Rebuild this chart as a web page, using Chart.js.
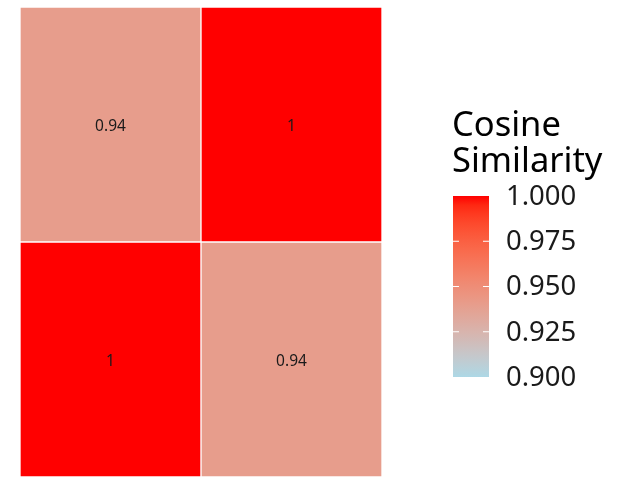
<!DOCTYPE html>
<html>
<head>
<meta charset="utf-8">
<script src="https://cdn.jsdelivr.net/npm/chart.js@4"></script>
<style>
  html, body { margin: 0; padding: 0; background: #fff; }
  #wrap { width: 621px; height: 478px; }
</style>
</head>
<body>
<div id="wrap"><canvas id="heat"></canvas></div>
<script>
// 数据
const xCats = ['A', 'B'];
const rowCats = ['bottom', 'top'];
const topRow = [0.94, 1];
const bottomRow = [1, 0.94];
const legendTicks = [1.000, 0.975, 0.950, 0.925, 0.900];
const legendMin = 0.9;
const legendMax = 1.0;
const legendTitle = ['Cosine', 'Similarity'];

// Lab 插值 (lightblue -> red)
function toLin(c) { c /= 255; return c <= 0.04045 ? c / 12.92 : Math.pow((c + 0.055) / 1.055, 2.4); }
function fromLin(c) { c = c <= 0.0031308 ? 12.92 * c : 1.055 * Math.pow(c, 1 / 2.4) - 0.055; return Math.max(0, Math.min(255, Math.round(c * 255))); }
function rgb2lab(r, g, b) {
  r = toLin(r); g = toLin(g); b = toLin(b);
  let x = (r * 0.4124 + g * 0.3576 + b * 0.1805) / 0.95047;
  let y = (r * 0.2126 + g * 0.7152 + b * 0.0722);
  let z = (r * 0.0193 + g * 0.1192 + b * 0.9505) / 1.08883;
  const f = t => t > 0.008856 ? Math.cbrt(t) : 7.787 * t + 16 / 116;
  x = f(x); y = f(y); z = f(z);
  return [116 * y - 16, 500 * (x - y), 200 * (y - z)];
}
function lab2rgb(L, a, b) {
  let y = (L + 16) / 116, x = a / 500 + y, z = y - b / 200;
  const fi = t => t * t * t > 0.008856 ? t * t * t : (t - 16 / 116) / 7.787;
  x = fi(x) * 0.95047; y = fi(y); z = fi(z) * 1.08883;
  const r = x * 3.2406 + y * -1.5372 + z * -0.4986;
  const g = x * -0.9689 + y * 1.8758 + z * 0.0415;
  const bb = x * 0.0557 + y * -0.2040 + z * 1.0570;
  return 'rgb(' + fromLin(r) + ',' + fromLin(g) + ',' + fromLin(bb) + ')';
}
const lowLab = rgb2lab(173, 216, 230);
const highLab = rgb2lab(255, 0, 0);
function colorFor(v) {
  const t = Math.max(0, Math.min(1, (v - legendMin) / (legendMax - legendMin)));
  return lab2rgb(
    lowLab[0] + (highLab[0] - lowLab[0]) * t,
    lowLab[1] + (highLab[1] - lowLab[1]) * t,
    lowLab[2] + (highLab[2] - lowLab[2]) * t
  );
}

// 单元格文字
const cellLabels = {
  id: 'cellLabels',
  afterDatasetsDraw(chart) {
    const ctx = chart.ctx;
    const xs = chart.scales.x, ys = chart.scales.y;
    ctx.save();
    ctx.font = '15.5px "Noto Sans", "Open Sans", sans-serif';
    ctx.fillStyle = '#1a1a1a';
    ctx.textAlign = 'center';
    ctx.textBaseline = 'middle';
    chart.data.datasets.forEach((ds, r) => {
      ds.values.forEach((v, i) => {
        ctx.fillText(String(v), xs.getPixelForValue(i), ys.getPixelForValue(r + 0.5) + 2);
      });
    });
    ctx.restore();
  }
};

// 图例色带
const colorLegend = {
  id: 'colorLegend',
  afterDraw(chart) {
    const ctx = chart.ctx;
    const bx = 453, bw = 36, top = 196, bottom = 377;
    ctx.save();
    ctx.font = '34.5px "Noto Sans", "Open Sans", sans-serif';
    ctx.fillStyle = '#000';
    ctx.textAlign = 'left';
    ctx.textBaseline = 'middle';
    ctx.fillText(legendTitle[0], 452, 126);
    ctx.fillText(legendTitle[1], 452, 162);

    const grad = ctx.createLinearGradient(0, bottom, 0, top);
    for (let k = 0; k <= 20; k++) {
      grad.addColorStop(k / 20, colorFor(legendMin + (legendMax - legendMin) * k / 20));
    }
    ctx.fillStyle = grad;
    ctx.fillRect(bx, top, bw, bottom - top);

    ctx.font = '27.5px "Noto Sans", "Open Sans", sans-serif';
    legendTicks.forEach(t => {
      const y = bottom - (t - legendMin) / (legendMax - legendMin) * (bottom - top);
      if (t > legendMin && t < legendMax) {
        ctx.strokeStyle = '#fff';
        ctx.lineWidth = 1;
        ctx.beginPath();
        ctx.moveTo(bx, y); ctx.lineTo(bx + 6, y);
        ctx.moveTo(bx + bw - 6, y); ctx.lineTo(bx + bw, y);
        ctx.stroke();
      }
      ctx.fillStyle = '#1a1a1a';
      ctx.fillText(t.toFixed(3), 506, y + 1);
    });
    ctx.restore();
  }
};

new Chart(document.getElementById('heat'), {
  type: 'bar',
  data: {
    labels: xCats,
    datasets: [
      { label: rowCats[0], values: bottomRow, data: bottomRow.map(() => [0, 1]), backgroundColor: bottomRow.map(colorFor) },
      { label: rowCats[1], values: topRow, data: topRow.map(() => [1, 2]), backgroundColor: topRow.map(colorFor) }
    ].map(ds => Object.assign(ds, {
      borderColor: 'rgba(255,255,255,0.45)',
      borderWidth: 1,
      borderSkipped: false,
      barPercentage: 1,
      categoryPercentage: 1,
      grouped: false
    }))
  },
  options: {
    responsive: true,
    maintainAspectRatio: false,
    animation: false,
    layout: { padding: { left: 20, top: 7, right: 239, bottom: 1 } },
    plugins: { legend: { display: false }, tooltip: { enabled: false } },
    scales: {
      x: { display: false, offset: true },
      y: { display: false, min: 0, max: 2 }
    }
  },
  plugins: [cellLabels, colorLegend]
});
</script>
</body>
</html>
